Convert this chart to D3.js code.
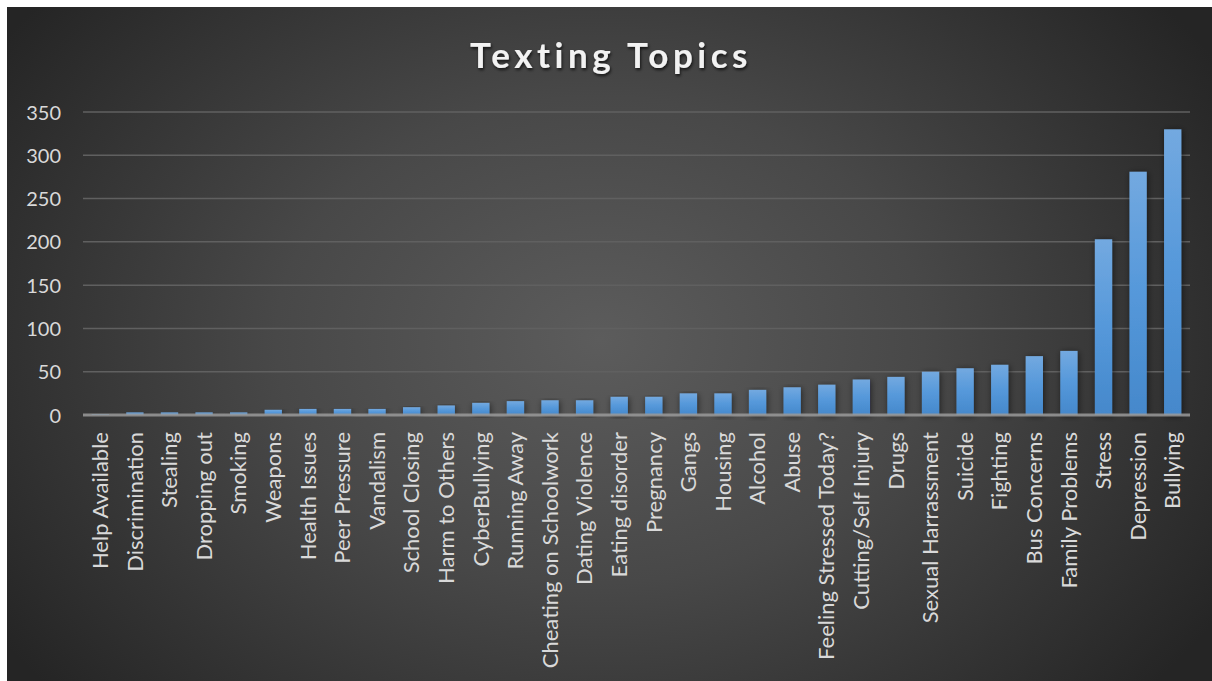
<!DOCTYPE html>
<html><head><meta charset="utf-8">
<script src="https://cdn.jsdelivr.net/npm/d3@7"></script>
<style>html,body{margin:0;padding:0;background:#fff;}svg{display:block;}</style>
</head><body>
<svg id="chart" width="1212" height="681"></svg>
<script>
const title = "Texting Topics";
const categories = ["Help Available","Discrimination","Stealing","Dropping out","Smoking","Weapons","Health Issues","Peer Pressure","Vandalism","School Closing","Harm to Others","CyberBullying","Running Away","Cheating on Schoolwork","Dating Violence","Eating disorder","Pregnancy","Gangs","Housing","Alcohol","Abuse","Feeling Stressed Today?","Cutting/Self Injury","Drugs","Sexual Harrassment","Suicide","Fighting","Bus Concerns","Family Problems","Stress","Depression","Bullying"];
const values = [1,3,3,3,3,6,7,7,7,9,11,14,16,17,17,21,21,25,25,29,32,35,41,44,50,54,58,68,74,203,281,330];
const yTicks = [0,50,100,150,200,250,300,350];

(function(){
const svg = d3.select("#chart");
const W = 1212, H = 681;
const defs = svg.append("defs");

const bg = defs.append("radialGradient").attr("id","bg")
  .attr("gradientUnits","userSpaceOnUse").attr("cx",600).attr("cy",340).attr("r",720)
  .attr("gradientTransform","translate(600,340) scale(1,0.75) translate(-600,-340)");
bg.append("stop").attr("offset","0").attr("stop-color","#5c5c5c");
bg.append("stop").attr("offset","0.45").attr("stop-color","#484848");
bg.append("stop").attr("offset","1").attr("stop-color","#252525");

const bar = defs.append("linearGradient").attr("id","bar").attr("x1",0).attr("y1",0).attr("x2",0).attr("y2",1);
bar.append("stop").attr("offset","0").attr("stop-color","#73a9e0");
bar.append("stop").attr("offset","0.5").attr("stop-color","#5598da");
bar.append("stop").attr("offset","1").attr("stop-color","#4588cb");

const sh = defs.append("filter").attr("id","sh").attr("x","-50%").attr("y","-10%").attr("width","200%").attr("height","130%");
sh.append("feDropShadow").attr("dx",1).attr("dy",1).attr("stdDeviation",3).attr("flood-color","#000").attr("flood-opacity",0.55);

const tsh = defs.append("filter").attr("id","tsh").attr("x","-10%").attr("y","-30%").attr("width","120%").attr("height","160%");
tsh.append("feDropShadow").attr("dx",1).attr("dy",2).attr("stdDeviation",1.5).attr("flood-color","#000").attr("flood-opacity",0.7);

svg.append("rect").attr("x",7).attr("y",7).attr("width",W-7).attr("height",H-7).attr("fill","url(#bg)");

const pLeft = 83, pRight = 1190, pTop = 112, pBottom = 415;
const x = d3.scaleBand().domain(categories).range([pLeft,pRight]).paddingInner(0.5).paddingOuter(0.25);
const y = d3.scaleLinear().domain([0,350]).range([pBottom,pTop]);

svg.append("g").selectAll("line").data(yTicks.filter(d=>d>0)).join("line")
  .attr("x1",pLeft).attr("x2",pRight).attr("y1",d=>y(d)).attr("y2",d=>y(d))
  .attr("stroke","#606060").attr("stroke-width",1.5);

const yAxis = d3.axisLeft(y).tickValues(yTicks).tickSize(0).tickPadding(0);
const ga = svg.append("g").attr("transform",`translate(61,0)`).call(yAxis);
ga.select(".domain").remove();
ga.selectAll("text").attr("fill","#d9d9d9").style("font-family","Lato, 'Open Sans', sans-serif").style("font-size","20px").attr("dy","0.35em");

svg.append("g").selectAll("rect").data(values).join("rect")
  .attr("x",(d,i)=>x(categories[i])).attr("width",x.bandwidth())
  .attr("y",d=>y(d)).attr("height",d=>pBottom-y(d))
  .attr("fill","url(#bar)").attr("filter","url(#sh)");

svg.append("line").attr("x1",pLeft).attr("x2",pRight).attr("y1",pBottom).attr("y2",pBottom)
  .attr("stroke","#9a9a9a").attr("stroke-width",3).attr("opacity",0.85);

const xAxis = d3.axisBottom(x).tickSize(0).tickPadding(0);
const gx = svg.append("g").attr("transform",`translate(0,${pBottom})`).call(xAxis);
gx.select(".domain").remove();
gx.selectAll("text")
  .attr("fill","#d9d9d9").style("font-family","Lato, 'Open Sans', sans-serif").style("font-size","22px")
  .attr("text-anchor","end").attr("transform","rotate(-90)")
  .attr("x",-17).attr("y",0).attr("dy","0.35em");

svg.append("text").attr("x",611).attr("y",68).attr("text-anchor","middle")
  .attr("fill","#f2f2f2").attr("filter","url(#tsh)")
  .style("font-family","Lato, 'Open Sans', sans-serif").style("font-weight","bold").style("font-size","35px").style("letter-spacing","4.5px")
  .text(title);
})();
</script>
</body></html>
